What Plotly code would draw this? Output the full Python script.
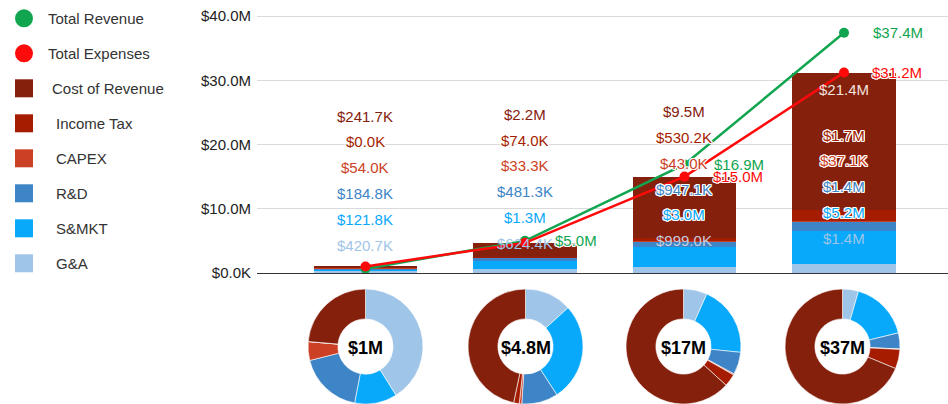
import plotly.graph_objects as go

# ---------------- data ----------------
categories = ["Period 1", "Period 2", "Period 3", "Period 4"]
g_and_a = [420.7e3, 624.4e3, 999.0e3, 1.4e6]
s_mkt = [121.8e3, 1.3e6, 3.0e6, 5.2e6]
r_and_d = [184.8e3, 481.3e3, 947.1e3, 1.4e6]
capex = [54.0e3, 33.3e3, 43.0e3, 37.1e3]
income_tax = [0.0, 74.0e3, 530.2e3, 1.7e6]
cost_of_revenue = [241.7e3, 2.2e6, 9.5e6, 21.4e6]
total_revenue = [0.67e6, 5.0e6, 16.9e6, 37.4e6]
total_expenses = [1.02e6, 4.7e6, 15.0e6, 31.2e6]
pie_center_labels = ["$1M", "$4.8M", "$17M", "$37M"]
y_tick_values = [0, 10e6, 20e6, 30e6, 40e6]
y_tick_labels = ["$0.0K", "$10.0M", "$20.0M", "$30.0M", "$40.0M"]
legend_names = ["Total Revenue", "Total Expenses", "Cost of Revenue",
                "Income Tax", "CAPEX", "R&D", "S&MKT", "G&A"]

# ---------------- styling ----------------
W, H = 948, 404
FONT = "Liberation Sans"
GREEN = "#12a550"
RED = "#ff0a0a"
C_GA, C_SM, C_RD = "#9fc5e8", "#08a8fb", "#3d85c6"
C_CAPEX, C_TAX, C_COR = "#cc4125", "#a61c00", "#85200c"
HALO = ("white 1px 1px 0px, white -1px -1px 0px, white 1px -1px 0px, "
        "white -1px 1px 0px, white 0px 1px 0px, white 0px -1px 0px, "
        "white 1px 0px 0px, white -1px 0px 0px")

def px_x(px):
    return min(1.0, max(0.0, px / W))

def px_y(py):
    return min(1.0, max(0.0, (H - py) / H))

def fmt(v):
    if v >= 1e6:
        return "${:.1f}M".format(v / 1e6)
    return "${:.1f}K".format(v / 1e3)

# plot area in pixels
PLOT_L, PLOT_R, PLOT_B, PLOT_T = 257, 948, 273, 10
PX_PER_M = 6.425
y_top = (PLOT_B - PLOT_T) / PX_PER_M * 1e6

stack = [
    ("G&A", g_and_a, C_GA),
    ("S&MKT", s_mkt, C_SM),
    ("R&D", r_and_d, C_RD),
    ("CAPEX", capex, C_CAPEX),
    ("Income Tax", income_tax, C_TAX),
    ("Cost of Revenue", cost_of_revenue, C_COR),
]

fig = go.Figure()

# stacked bars
for name, vals, col in stack:
    fig.add_trace(go.Bar(
        x=categories, y=vals, name=name, marker=dict(color=col, line=dict(width=0)),
        width=0.646, showlegend=False))

# lines
fig.add_trace(go.Scatter(
    x=categories, y=total_revenue, mode="lines+markers", name="Total Revenue",
    line=dict(color=GREEN, width=2.5), marker=dict(size=10, color=GREEN),
    showlegend=False))
fig.add_trace(go.Scatter(
    x=categories, y=total_expenses, mode="lines+markers", name="Total Expenses",
    line=dict(color=RED, width=2.5), marker=dict(size=10, color=RED),
    showlegend=False))

annotations = []
shapes = []

# stacked value labels (column of labels per bar; top row = Cost of Revenue)
label_bottom_px = [245.0, 243.3, 240.7, 238.3]
ROW_GAP = 25.8
rows_top_down = list(reversed(stack))  # CoR, Tax, CAPEX, R&D, S&MKT, G&A
for i, cat in enumerate(categories):
    for r, (name, vals, col) in enumerate(rows_top_down):
        py = label_bottom_px[i] - (len(rows_top_down) - 1 - r) * ROW_GAP
        color = col
        shadow = HALO
        if name == "G&A":
            shadow = "none"
        if i == 3 and name == "Cost of Revenue":
            py = 89.3
            color = "#f2e2df"
            shadow = "none"
        if i == 2 and name == "G&A":
            color = "#c3cfe0"
        annotations.append(dict(
            x=cat, xref="x", y=px_y(py), yref="paper", text=fmt(vals[i]),
            showarrow=False, xanchor="center", yanchor="middle",
            font=dict(family=FONT, size=15, color=color, shadow=shadow)))

# line value labels
line_labels = [
    (1, total_revenue, GREEN, 28),
    (2, total_revenue, GREEN, 28),
    (2, total_expenses, RED, 27),
    (3, total_revenue, GREEN, 27),
    (3, total_expenses, RED, 26),
]
for i, series, col, shift in line_labels:
    annotations.append(dict(
        x=categories[i], xref="x", y=series[i], yref="y", text=fmt(series[i]),
        showarrow=False, xanchor="left", yanchor="middle", xshift=shift,
        font=dict(family=FONT, size=15, color=col, shadow=HALO)))

# donut charts
pie_centers_px = [365.5, 525.5, 683.5, 842.5]
PIE_CY, PIE_D = 346.5, 115
pie_order = [g_and_a, s_mkt, r_and_d, capex, income_tax, cost_of_revenue]
pie_names = ["G&A", "S&MKT", "R&D", "CAPEX", "Income Tax", "Cost of Revenue"]
pie_colors = [C_GA, C_SM, C_RD, C_CAPEX, C_TAX, C_COR]
for i in range(len(categories)):
    cx = pie_centers_px[i]
    fig.add_trace(go.Pie(
        values=[s[i] for s in pie_order], labels=pie_names, sort=False,
        direction="clockwise", rotation=0, hole=0.48, textinfo="none",
        marker=dict(colors=pie_colors, line=dict(color="white", width=0.6)),
        domain=dict(x=[px_x(cx - PIE_D / 2), px_x(cx + PIE_D / 2)],
                    y=[px_y(PIE_CY + PIE_D / 2), px_y(PIE_CY - PIE_D / 2)]),
        showlegend=False))
    annotations.append(dict(
        x=px_x(cx), xref="paper", y=px_y(PIE_CY + 1.5), yref="paper",
        text="<b>" + pie_center_labels[i] + "</b>", showarrow=False,
        xanchor="center", yanchor="middle",
        font=dict(family="Liberation Sans", size=18, color="#000000")))

# legend (drawn manually to match the reference layout)
legend_colors = [GREEN, RED, C_COR, C_TAX, C_CAPEX, C_RD, C_SM, C_GA]
legend_kinds = ["circle", "circle"] + ["rect"] * 6
legend_text_x = [46, 46, 50, 54, 54, 54, 54, 54]
LEG_Y0, LEG_GAP, LEG_CX, LEG_R = 18.3, 35.0, 24, 9
for k, name in enumerate(legend_names):
    cy = LEG_Y0 + k * LEG_GAP
    shapes.append(dict(
        type=legend_kinds[k], xref="paper", yref="paper",
        x0=px_x(LEG_CX - LEG_R), x1=px_x(LEG_CX + LEG_R),
        y0=px_y(cy + LEG_R), y1=px_y(cy - LEG_R),
        fillcolor=legend_colors[k], line=dict(width=0)))
    annotations.append(dict(
        x=px_x(legend_text_x[k]), xref="paper", y=px_y(cy), yref="paper",
        text=name, showarrow=False, xanchor="left", yanchor="middle",
        font=dict(family=FONT, size=15, color="#333333")))

fig.update_layout(
    width=W, height=H,
    margin=dict(l=0, r=0, t=0, b=0, autoexpand=False),
    paper_bgcolor="white", plot_bgcolor="white",
    barmode="stack", bargap=0,
    font=dict(family=FONT, size=15, color="#333333"),
    showlegend=False,
    xaxis=dict(type="category", domain=[px_x(PLOT_L), 1], range=[-0.68, 3.652],
               showticklabels=False, showgrid=False, zeroline=False,
               showline=True, linecolor="#333333", linewidth=1, ticks="",
               automargin=False),
    yaxis=dict(domain=[px_y(PLOT_B), px_y(PLOT_T)], range=[0, y_top],
               tickvals=y_tick_values, ticktext=y_tick_labels,
               showgrid=True, gridcolor="#dadada", gridwidth=1,
               zeroline=False, showline=False, ticks="",
               ticklabelstandoff=5, automargin=False,
               tickfont=dict(family=FONT, size=15, color="#222222")),
    annotations=annotations,
    shapes=shapes,
)

fig.write_html(
    "out.html",
    config={"displayModeBar": False},
    post_script="document.body.style.margin='0';document.body.style.overflow='hidden';",
)
